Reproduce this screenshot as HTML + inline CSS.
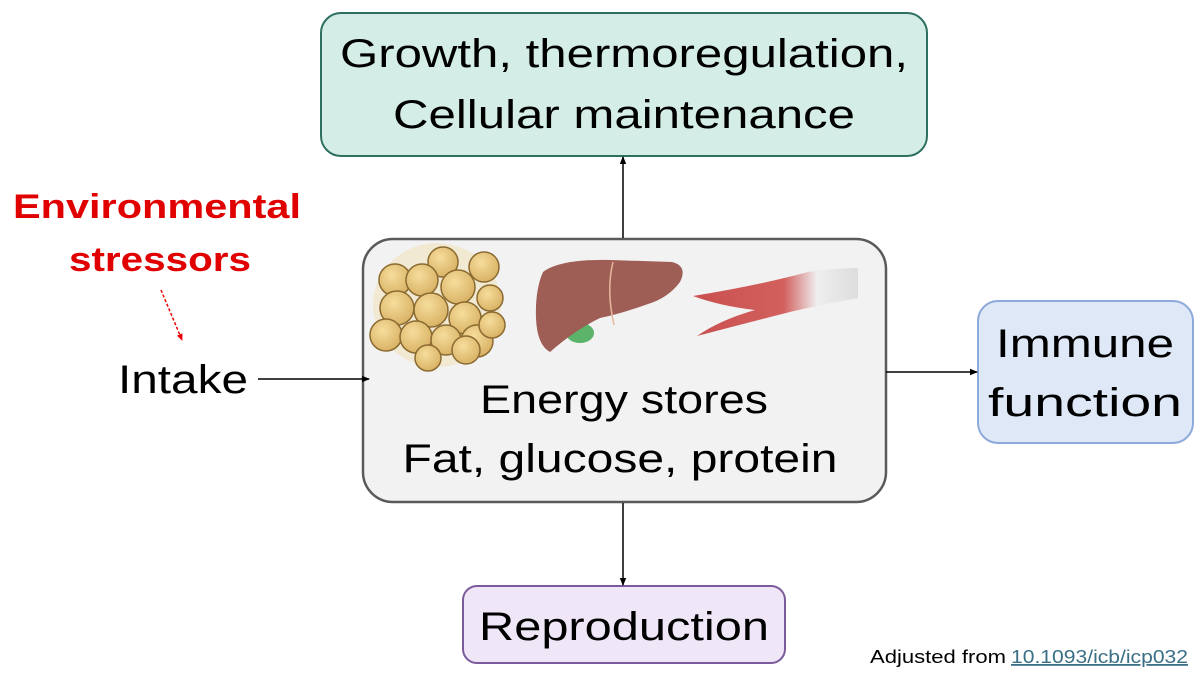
<!DOCTYPE html>
<html><head><meta charset="utf-8"><style>
html,body{margin:0;padding:0;background:#fff;}
svg{display:block;font-family:"Liberation Sans",sans-serif;}
</style></head><body>
<svg width="1200" height="675" viewBox="0 0 1200 675" xmlns="http://www.w3.org/2000/svg">
<defs>
<marker id="ah" markerWidth="8" markerHeight="8" refX="7" refY="4" orient="auto" markerUnits="userSpaceOnUse">
<path d="M0,0.8 L8,4 L0,7.2 z" fill="#000"/></marker>
<marker id="ahr" markerWidth="7" markerHeight="7" refX="6" refY="3.5" orient="auto" markerUnits="userSpaceOnUse">
<path d="M0,0.5 L7,3.5 L0,6.5 z" fill="#e00"/></marker>
<radialGradient id="cell" cx="40%" cy="35%" r="65%"><stop offset="0" stop-color="#f6dd9c"/><stop offset="1" stop-color="#d9b366"/></radialGradient>
<linearGradient id="tendon" x1="0" x2="1"><stop offset="0" stop-color="#c9504f"/><stop offset="0.55" stop-color="#d2605d"/><stop offset="0.75" stop-color="#eee"/><stop offset="1" stop-color="#ddd"/></linearGradient>
</defs>

<rect x="321" y="13" width="606" height="143" rx="20" fill="#d4eee7" stroke="#2f6f60" stroke-width="2"/>
<text x="624" y="67" font-size="40" text-anchor="middle" textLength="568" lengthAdjust="spacingAndGlyphs">Growth, thermoregulation,</text>
<text x="624" y="128" font-size="40" text-anchor="middle" textLength="462" lengthAdjust="spacingAndGlyphs">Cellular maintenance</text>

<rect x="363" y="239" width="523" height="263" rx="30" fill="#f2f2f2" stroke="#5a5a5a" stroke-width="2.5"/>
<g stroke="#8a6a30" stroke-width="1.5" fill="url(#cell)">
<ellipse cx="437" cy="305" rx="64" ry="62" fill="#f0e6c8" stroke="none" opacity="0.8"/>
<circle cx="443" cy="262" r="15"/><circle cx="484" cy="267" r="15"/>
<circle cx="395" cy="280" r="16"/><circle cx="422" cy="280" r="16"/><circle cx="458" cy="287" r="17"/>
<circle cx="397" cy="308" r="17"/><circle cx="431" cy="310" r="17"/><circle cx="465" cy="318" r="16"/><circle cx="490" cy="298" r="13"/>
<circle cx="386" cy="335" r="16"/><circle cx="416" cy="337" r="16"/><circle cx="446" cy="340" r="15"/><circle cx="477" cy="341" r="16"/><circle cx="492" cy="325" r="13"/>
<circle cx="428" cy="358" r="13"/><circle cx="466" cy="350" r="14"/>
</g>
<ellipse cx="580" cy="333" rx="14" ry="10" fill="#5cb36a"/>
<path d="M543,272 Q560,259 610,260 L672,262 Q688,266 680,282 Q668,298 648,304 Q620,314 600,318 Q575,330 550,352 Q537,345 536,318 Q535,290 543,272 z" fill="#9e5e55"/>
<path d="M613,262 Q606,290 614,325" stroke="#e6b89c" stroke-width="1.5" fill="none"/>
<path d="M693,296 Q760,285 808,272 Q835,268 858,268 L858,298 Q820,305 790,312 Q750,322 697,336 Q720,320 755,310 Q720,306 693,296 z" fill="url(#tendon)"/>
<text x="624" y="413" font-size="40" text-anchor="middle" textLength="288" lengthAdjust="spacingAndGlyphs">Energy stores</text>
<text x="620" y="472" font-size="40" text-anchor="middle" textLength="435" lengthAdjust="spacingAndGlyphs">Fat, glucose, protein</text>

<rect x="978" y="301" width="215" height="142" rx="20" fill="#dee8f7" stroke="#8eaadb" stroke-width="2"/>
<text x="1085" y="357" font-size="40" text-anchor="middle" textLength="178" lengthAdjust="spacingAndGlyphs">Immune</text>
<text x="1085" y="416" font-size="40" text-anchor="middle" textLength="194" lengthAdjust="spacingAndGlyphs">function</text>

<rect x="463" y="586" width="322" height="77" rx="14" fill="#efe6f7" stroke="#7b5b9c" stroke-width="2"/>
<text x="624" y="640" font-size="40" text-anchor="middle" textLength="290" lengthAdjust="spacingAndGlyphs">Reproduction</text>

<text x="157" y="218" font-size="34" font-weight="bold" fill="#e00000" text-anchor="middle" textLength="288" lengthAdjust="spacingAndGlyphs">Environmental</text>
<text x="160" y="271" font-size="34" font-weight="bold" fill="#e00000" text-anchor="middle" textLength="182" lengthAdjust="spacingAndGlyphs">stressors</text>
<line x1="161" y1="290" x2="182" y2="340" stroke="#e00" stroke-width="1.5" stroke-dasharray="3,2" marker-end="url(#ahr)"/>
<text x="183" y="393" font-size="40" text-anchor="middle" textLength="130" lengthAdjust="spacingAndGlyphs">Intake</text>

<line x1="258" y1="379" x2="369" y2="379" stroke="#000" stroke-width="1.5" marker-end="url(#ah)"/>
<line x1="886" y1="372" x2="977" y2="372" stroke="#000" stroke-width="1.5" marker-end="url(#ah)"/>
<line x1="623" y1="238" x2="623" y2="157" stroke="#000" stroke-width="1.5" marker-end="url(#ah)"/>
<line x1="623" y1="503" x2="623" y2="585" stroke="#000" stroke-width="1.5" marker-end="url(#ah)"/>

<text x="870" y="663" font-size="18" fill="#000" textLength="136" lengthAdjust="spacingAndGlyphs">Adjusted from</text>
<text x="1011" y="663" font-size="18" fill="#3a6f86" text-decoration="underline" textLength="177" lengthAdjust="spacingAndGlyphs">10.1093/icb/icp032</text>
</svg>
</body></html>
